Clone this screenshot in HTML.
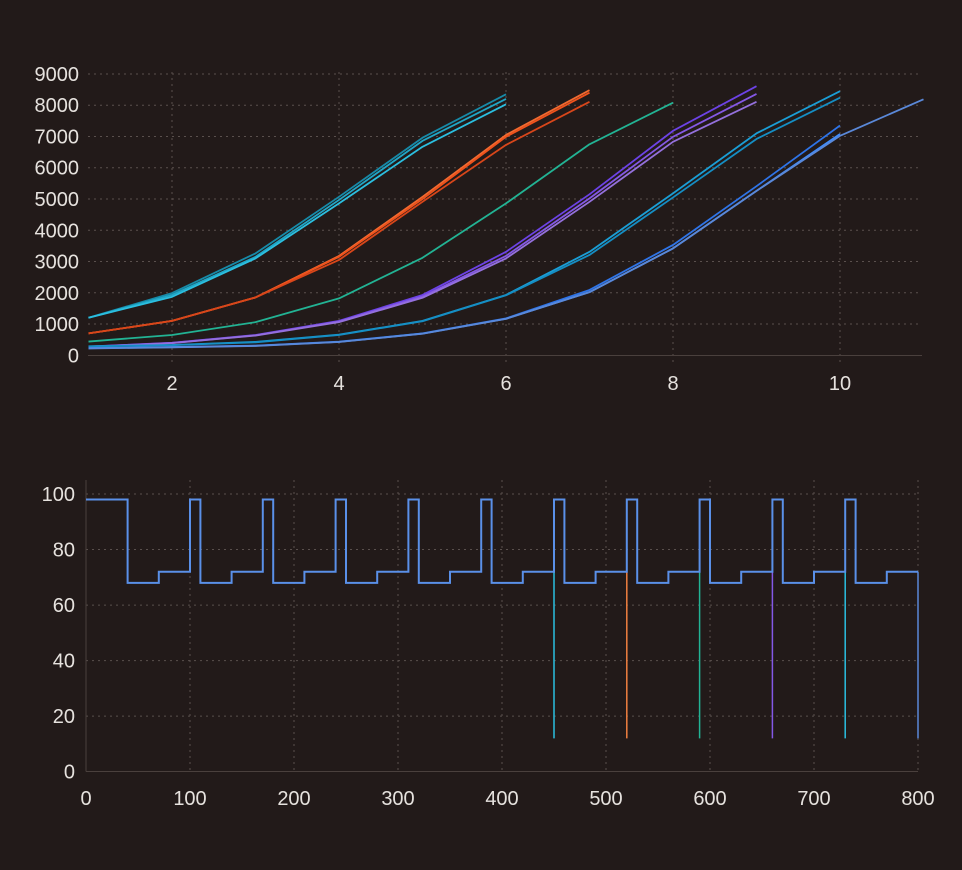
<!DOCTYPE html>
<html><head><meta charset="utf-8"><style>
html,body{margin:0;padding:0;background:#221a19;}
svg{display:block;}
text{font-family:"Liberation Sans",sans-serif;fill:#e6e2de;font-size:20px;}
</style></head><body>
<svg id="chart" width="962" height="870" viewBox="0 0 962 870">
<rect width="962" height="870" fill="#221a19"/>
<g id="top"></g>
<g id="bot"></g>
</svg>
<script>
// ---- top chart data ----
const topXTicks = [2,4,6,8,10];
const topYTicks = [0,1000,2000,3000,4000,5000,6000,7000,8000,9000];
const s_cyanA = [1200,1990,3260,5070,6960,8350];
const s_cyanB = [1200,1930,3150,4970,6860,8200];
const s_cyanC = [1200,1870,3100,4860,6670,8030];
const s_orangeA = [700,1100,1850,3180,5070,7050,8480];
const s_orangeB = [700,1100,1850,3150,5000,6990,8400];
const s_orangeC = [700,1100,1850,3050,4910,6730,8110];
const s_teal = [440,650,1060,1820,3120,4860,6750,8080];
const s_purpleA = [280,400,650,1100,1930,3310,5150,7180,8610];
const s_purpleB = [275,395,640,1080,1880,3180,5020,6990,8360];
const s_purpleC = [270,390,630,1060,1840,3100,4910,6830,8110];
const s_skyA = [290,330,430,660,1100,1930,3310,5180,7100,8450];
const s_skyB = [285,325,415,650,1090,1920,3210,5050,6920,8240];
const s_blueA = [230,265,310,435,700,1180,2090,3530,5410,7350];
const s_blueB = [225,260,305,430,695,1170,2020,3420,5260,7080];
const s_blueC = [220,255,300,425,690,1165,2020,3420,5260,7020,8190];
const topSeries = [
 [s_cyanA,'#178aa8'],[s_cyanB,'#20a6c6'],[s_cyanC,'#2bbfe0'],
 [s_orangeA,'#f26a30'],[s_orangeB,'#f0521c'],[s_orangeC,'#d8461a'],
 [s_teal,'#22b394'],
 [s_purpleA,'#6c42e6'],[s_purpleB,'#8458e6'],[s_purpleC,'#9470dc'],
 [s_skyA,'#1a9ed6'],[s_skyB,'#158ec4'],
 [s_blueA,'#2e74e8'],[s_blueB,'#3d8cff'],[s_blueC,'#5a88d8']
];
// ---- bottom chart data ----
const botXTicks = [0,100,200,300,400,500,600,700,800];
const botYTicks = [0,20,40,60,80,100];
const stepX = [0,40,70,100,110,140,170,180,210,240,250,280,310,320,350,380,390,420,450,460,490,520,530,560,590,600,630,660,670,700,730,740,770,800];
const stepY = [98,68,72,98,68,72,98,68,72,98,68,72,98,68,72,98,68,72,98,68,72,98,68,72,98,68,72,98,68,72,98,68,72,72];
const spikeX = [450,520,590,660,730,800];
const spikeTop = [72,72,72,72,72,72];
const spikeBottom = [12,12,12,12,12,12];
const spikeColors = ['#2bbfe0','#f08040','#22b394','#8458e6','#2bbfe0','#5a88d8'];

const NS='http://www.w3.org/2000/svg';
function mk(parent,tag,attrs){const e=document.createElementNS(NS,tag);for(const k in attrs)e.setAttribute(k,attrs[k]);parent.appendChild(e);return e;}

// top axes
const T=document.getElementById('top');
const tx=v=>172+(v-2)*83.5;
const ty=v=>355.3-v*0.03126;
topYTicks.forEach(v=>{
 if(v>0){const g=mk(T,'line',{x1:88,x2:922,y1:ty(v),y2:ty(v),stroke:'#5a504d','stroke-width':1,'stroke-dasharray':'2,4'});
 
 }
 const t=mk(T,'text',{x:79,y:ty(v)+7,'text-anchor':'end'});t.textContent=v;
 
 
});
topXTicks.forEach(v=>{
 const g=mk(T,'line',{x1:tx(v),x2:tx(v),y1:72,y2:362,stroke:'#5a504d','stroke-width':1,'stroke-dasharray':'2,4'});
 
 
 const t=mk(T,'text',{x:tx(v),y:390,'text-anchor':'middle'});t.textContent=v;
 
 
});
const ta=mk(T,'line',{x1:88,x2:922,y1:355.5,y2:355.5,stroke:'#4a403d','stroke-width':1});


topSeries.forEach(([d,c],i)=>{
 const p=mk(T,'polyline',{points:d.map((v,j)=>tx(j+1)+','+ty(v)).join(' '),fill:'none',stroke:c,'stroke-width':1.8,'stroke-linejoin':'round'});
 
 
});

// bottom axes
const B=document.getElementById('bot');
const bx=v=>86+v*1.04;
const by=v=>771.7-v*2.777;
botYTicks.forEach(v=>{
 if(v>0){const g=mk(B,'line',{x1:86,x2:918,y1:by(v),y2:by(v),stroke:'#5a504d','stroke-width':1,'stroke-dasharray':'2,4'});
 
 }
 const t=mk(B,'text',{x:75,y:by(v)+7,'text-anchor':'end'});t.textContent=v;
 
 
});
botXTicks.forEach(v=>{
 if(v>0){const g=mk(B,'line',{x1:bx(v),x2:bx(v),y1:480,y2:771,stroke:'#5a504d','stroke-width':1,'stroke-dasharray':'2,4'});
 
 }
 const t=mk(B,'text',{x:bx(v),y:805,'text-anchor':'middle'});t.textContent=v;
 
 
});
const ba1=mk(B,'line',{x1:86,x2:918,y1:771.5,y2:771.5,stroke:'#4a403d','stroke-width':1});


const ba2=mk(B,'line',{x1:86,x2:86,y1:480,y2:771.5,stroke:'#4a403d','stroke-width':1});


spikeX.forEach((x,i)=>{
 const l=mk(B,'line',{x1:bx(x),x2:bx(x),y1:by(spikeTop[i]),y2:by(spikeBottom[i]),stroke:spikeColors[i],'stroke-width':1.5});
 
 
});
let pts=[];
for(let i=0;i<stepX.length;i++){
 if(i>0)pts.push(bx(stepX[i])+','+by(stepY[i-1]));
 pts.push(bx(stepX[i])+','+by(stepY[i]));
}
const sp=mk(B,'polyline',{points:pts.join(' '),fill:'none',stroke:'#5a90e8','stroke-width':2});


</script>
</body></html>
